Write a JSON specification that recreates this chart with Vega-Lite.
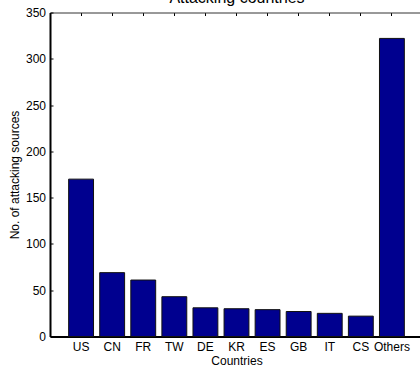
{
  "$schema": "https://vega.github.io/schema/vega-lite/v6.json",
  "width": 370,
  "height": 324,
  "autosize": {"type": "none"},
  "padding": {"left": 50, "top": 12.5, "right": 0, "bottom": 28.5},
  "background": "white",
  "title": {
    "text": "Attacking countries",
    "font": "Liberation Sans",
    "fontSize": 16,
    "fontWeight": "normal",
    "color": "#000",
    "anchor": "middle",
    "baseline": "alphabetic",
    "offset": 8,
    "dx": 2,
    "dy": 20
  },
  "data": {
    "values": [
      {"country": "US", "sources": 170},
      {"country": "CN", "sources": 69},
      {"country": "FR", "sources": 61},
      {"country": "TW", "sources": 43},
      {"country": "DE", "sources": 31},
      {"country": "KR", "sources": 30},
      {"country": "ES", "sources": 29},
      {"country": "GB", "sources": 27},
      {"country": "IT", "sources": 25},
      {"country": "CS", "sources": 22},
      {"country": "Others", "sources": 322}
    ]
  },
  "resolve": {"axis": {"x": "independent"}},
  "layer": [
    {
      "mark": {"type": "bar", "fill": "#00008F", "stroke": "#111", "strokeWidth": 1},
      "encoding": {
        "x": {
          "field": "country",
          "type": "nominal",
          "sort": null,
          "scale": {"range": [0, 373], "paddingInner": 0.2, "paddingOuter": 0.6},
          "axis": {
            "orient": "bottom",
            "ticks": false,
            "domainColor": "#000",
            "domainWidth": 2,
            "labelAngle": 0,
            "labelFont": "Liberation Sans",
            "labelFontSize": 12,
            "labelColor": "#000",
            "labelPadding": 5,
            "title": "Countries",
            "titleFont": "Liberation Sans",
            "titleFontSize": 12,
            "titleFontWeight": "normal",
            "titleColor": "#000",
            "titlePadding": 3
          }
        },
        "y": {
          "field": "sources",
          "type": "quantitative",
          "scale": {"domain": [0, 350], "nice": false},
          "axis": {
            "values": [0, 50, 100, 150, 200, 250, 300, 350],
            "grid": false,
            "tickSize": -3,
            "tickColor": "#000",
            "domainColor": "#000",
            "domainWidth": 2,
            "labelFont": "Liberation Sans",
            "labelFontSize": 12,
            "labelColor": "#000",
            "labelPadding": 7.5,
            "title": "No. of attacking sources",
            "titleFont": "Liberation Sans",
            "titleFontSize": 12,
            "titleFontWeight": "normal",
            "titleColor": "#000",
            "titlePadding": 4
          }
        }
      }
    },
    {
      "mark": {"type": "bar", "opacity": 0},
      "encoding": {
        "x": {
          "field": "country",
          "type": "nominal",
          "sort": null,
          "axis": {
            "orient": "top",
            "labels": false,
            "title": null,
            "tickSize": -3,
            "tickColor": "#000",
            "domainColor": "#333",
            "domainWidth": 1,
            "minExtent": 0,
            "maxExtent": 0
          }
        },
        "y": {"field": "sources", "type": "quantitative"}
      }
    }
  ],
  "config": {"view": {"stroke": null}}
}
